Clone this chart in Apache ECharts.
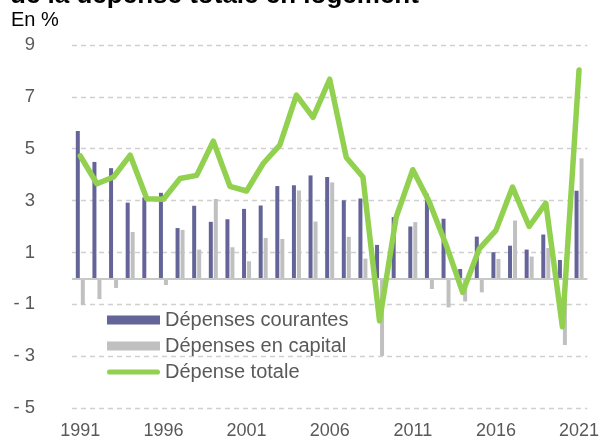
<!DOCTYPE html>
<html><head><meta charset="utf-8">
<script src="https://cdn.jsdelivr.net/npm/echarts@6/dist/echarts.min.js"></script>
<style>html,body{margin:0;padding:0;background:#fff}#c{width:602px;height:441px}</style>
</head><body><div id="c"></div>
<script>
const years = ["1991","1992","1993","1994","1995","1996","1997","1998","1999","2000","2001","2002","2003","2004","2005","2006","2007","2008","2009","2010","2011","2012","2013","2014","2015","2016","2017","2018","2019","2020","2021"];
const courantes = [5.68,4.49,4.25,2.92,3.12,3.30,1.94,2.80,2.18,2.28,2.68,2.81,3.56,3.59,3.97,3.91,3.01,3.08,1.29,2.36,2.00,3.26,2.30,0.36,1.61,1.01,1.26,1.11,1.69,0.71,3.38];
const capital = [-1.02,-0.80,-0.37,1.79,0,-0.26,1.87,1.11,3.06,1.20,0.66,1.56,1.52,3.39,2.19,3.70,1.60,0.76,-2.99,0,2.17,-0.41,-1.12,-0.89,-0.54,0.75,2.23,0.84,1.17,-2.57,4.63];
const totale = [4.72,3.65,3.91,4.75,3.07,3.05,3.85,3.97,5.29,3.55,3.37,4.43,5.14,7.07,6.21,7.68,4.66,3.91,-1.64,2.36,4.19,2.94,1.30,-0.54,1.14,1.85,3.52,2.00,2.90,-1.87,8.04];
const yTicks = [-5,-3,-1,1,3,5,7,9];

const chart = echarts.init(document.getElementById('c'), null, {renderer:'canvas'});
const font = '"Liberation Sans", Arial, sans-serif';
const lineIcon = 'path://M2.5,0 L49.5,0 A2.5,2.5 0 0 1 49.5,5 L2.5,5 A2.5,2.5 0 0 1 2.5,0 Z';
chart.setOption({
  animation:false,
  textStyle:{fontFamily:font},
  graphic:[
    {type:'text', left:10, top:-17, style:{text:'de la dépense totale en logement', font:'bold 26px '+font, fill:'#000'}},
    {type:'text', left:11, top:10, style:{text:'En %', font:'20px '+font, fill:'#000'}}
  ],
  legend:{
    orient:'vertical', left:107, top:310, padding:0, itemWidth:53, itemHeight:9, itemGap:6,
    textStyle:{fontSize:20, color:'#595959', fontFamily:font},
    data:[
      {name:'Dépenses courantes', icon:'rect'},
      {name:'Dépenses en capital', icon:'rect'},
      {name:'Dépense totale', icon:lineIcon, itemStyle:{color:'#92d050'}}
    ]
  },
  grid:{left:72, right:11, top:45, bottom:33, containLabel:false},
  xAxis:{
    type:'category', data:years, boundaryGap:true,
    axisLine:{show:false}, axisTick:{show:false},
    axisLabel:{interval:4, color:'#595959', fontSize:18, margin:14, fontFamily:font}
  },
  yAxis:{
    type:'value', min:-5, max:9, interval:2,
    axisLine:{show:false}, axisTick:{show:false},
    splitLine:{lineStyle:{type:[5,4], color:'#d0d0d0', width:1.3}},
    axisLabel:{color:'#595959', fontSize:18.5, margin:37, fontFamily:font,
      formatter:v=> v<0 ? '- '+Math.abs(v) : String(v)}
  },
  series:[
    {name:'Dépenses courantes', type:'bar', data:courantes, barWidth:4, barGap:'25%',
     itemStyle:{color:'#646498'},
     markLine:{silent:true, symbol:'none', label:{show:false},
       lineStyle:{color:'#c8c8c8', type:'solid', width:2}, data:[{yAxis:0}]}},
    {name:'Dépenses en capital', type:'bar', data:capital, barWidth:4,
     itemStyle:{color:'#c0c0c0'}},
    {name:'Dépense totale', type:'line', data:totale, symbol:'none', showSymbol:false,
     lineStyle:{color:'#92d050', width:5.5, cap:'round', join:'round'}, itemStyle:{color:'#92d050'}, z:5}
  ]
});
</script></body></html>
